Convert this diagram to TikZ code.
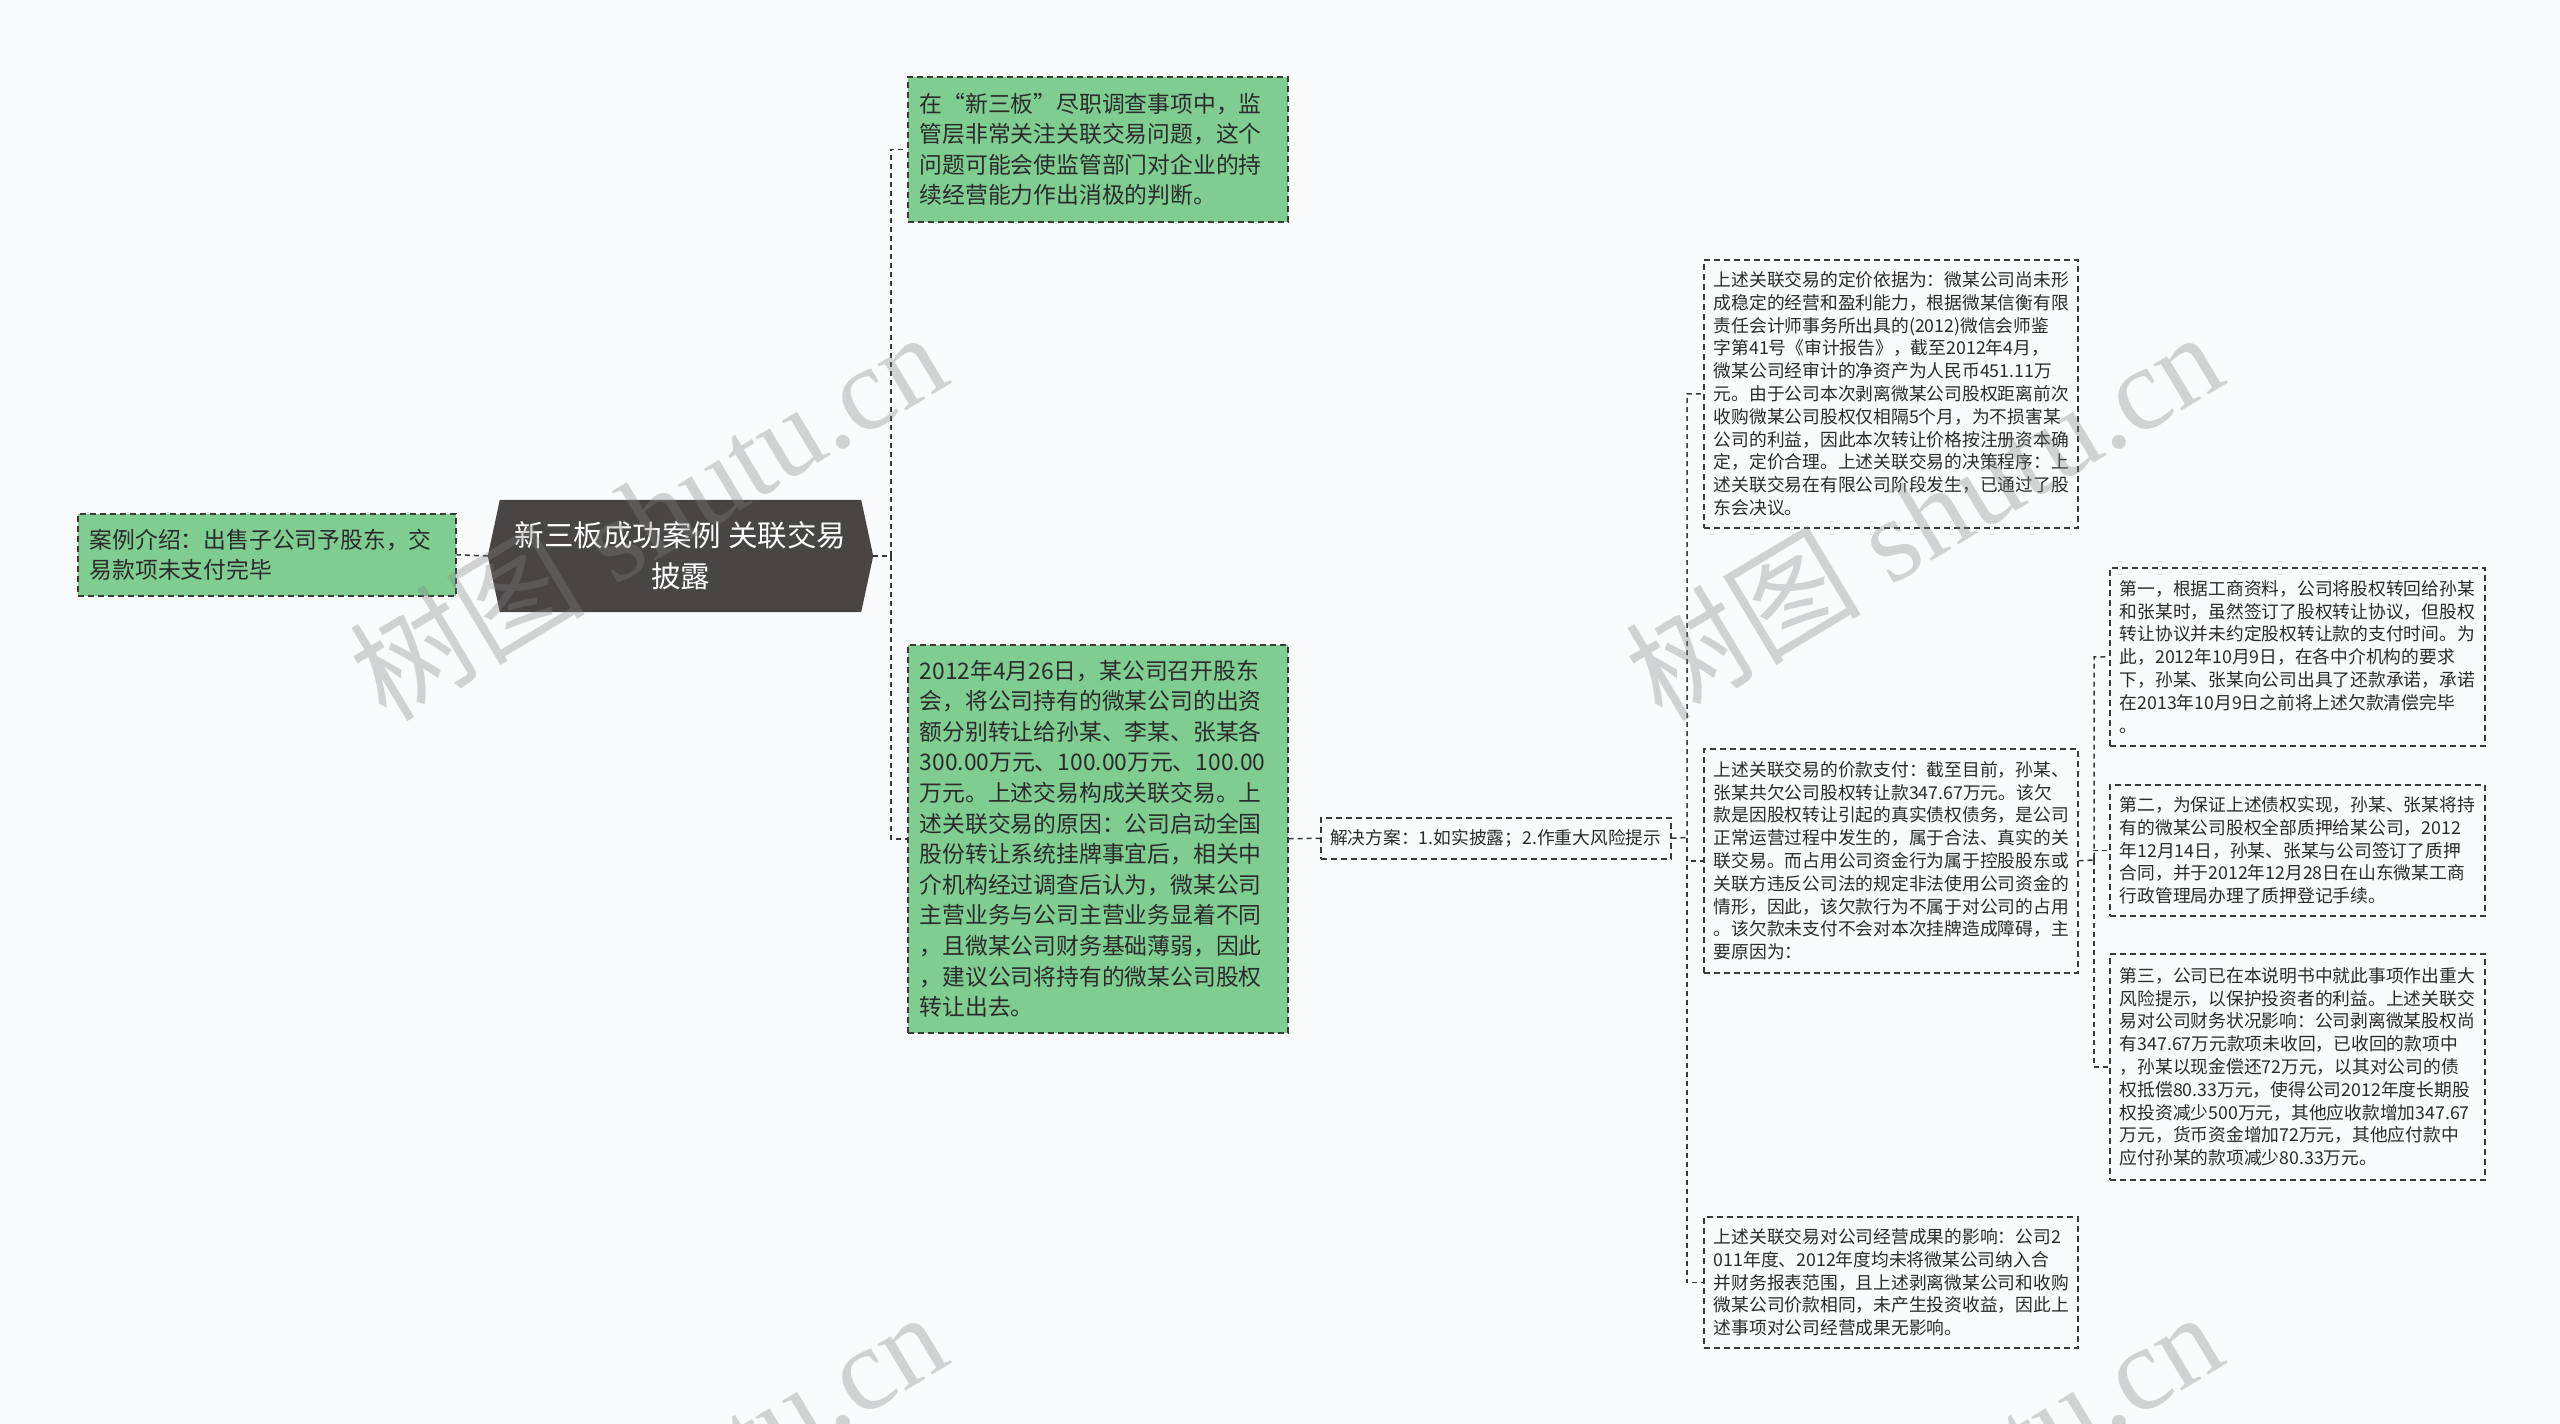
\documentclass[tikz,border=0pt]{standalone}
\usepackage{fontspec}
\newfontfamily\cjk{Noto Sans CJK SC}
\newfontfamily\wmserif{Liberation Serif}
\usetikzlibrary{backgrounds}
\definecolor{bgc}{HTML}{F9FBFD}
\definecolor{greenfill}{HTML}{7FCD91}
\definecolor{rootfill}{HTML}{4A4545}
\definecolor{edgec}{HTML}{3A3A3A}
\definecolor{txt}{HTML}{2B2B2B}
\begin{document}
\begin{tikzpicture}[x=1pt,y=-1pt,
  dashbox/.style={draw=edgec, line width=1.5pt, dash pattern=on 6pt off 4pt,
    inner xsep=10pt, inner ysep=0pt, anchor=north west, align=left, text=txt},
  greenbox/.style={dashbox, fill=greenfill, inner xsep=12pt,
    font=\cjk\fontsize{22.8}{30.6}\selectfont},
  smallbox/.style={dashbox, fill=bgc, font=\cjk\fontsize{17.75}{22.8}\selectfont},
  rootbox/.style={inner sep=0pt, minimum width=385pt, minimum height=112pt,
    align=center, text=white, font=\cjk\fontsize{29.5}{41}\selectfont},
  link/.style={draw=edgec, line width=1.5pt, dash pattern=on 5pt off 4pt},
  wm/.style={text=gray, opacity=0.33, rotate=31, inner sep=0pt}
]
\begin{scope}[on background layer]
  \fill[bgc] (0,0) rectangle (2560,1424);
\end{scope}
\useasboundingbox (0,0) rectangle (2560,1424);

% root
\node[rootbox] (root) at (680.5,556) {新三板成功案例 关联交易\\披露};
\begin{scope}[on background layer]
  \fill[rootfill] ([xshift=12pt]root.north west) -- ([xshift=-12pt]root.north east)
    -- (root.east) -- ([xshift=-12pt]root.south east)
    -- ([xshift=12pt]root.south west) -- (root.west) -- cycle;
\end{scope}

% left
\node[greenbox, text width=354pt, minimum height=82pt] (left) at (77,513)
  {案例介绍：出售子公司予股东，交\\易款项未支付完毕};

% right green
\node[greenbox, text width=356pt, minimum height=145pt] (tg) at (907,76)
  {在“新三板”尽职调查事项中，监\\管层非常关注关联交易问题，这个\\问题可能会使监管部门对企业的持\\续经营能力作出消极的判断。};
\node[greenbox, text width=356pt, minimum height=388pt] (bg) at (907,644)
  {2012年4月26日，某公司召开股东\\会，将公司持有的微某公司的出资\\额分别转让给孙某、李某、张某各\\300.00万元、100.00万元、100.00\\万元。上述交易构成关联交易。上\\述关联交易的原因：公司启动全国\\股份转让系统挂牌事宜后，相关中\\介机构经过调查后认为，微某公司\\主营业务与公司主营业务显着不同\\，且微某公司财务基础薄弱，因此\\，建议公司将持有的微某公司股权\\转让出去。};

% solution
\node[smallbox, align=center, minimum width=350pt, minimum height=41pt, inner xsep=6pt] (sol) at (1320,817)
  {解决方案：1.如实披露；2.作重大风险提示};

% column A-C
\node[smallbox, text width=354pt, minimum height=268pt] (A) at (1703,259)
  {上述关联交易的定价依据为：微某公司尚未形\\成稳定的经营和盈利能力，根据微某信衡有限\\责任会计师事务所出具的(2012)微信会师鉴\\字第41号《审计报告》，截至2012年4月，\\微某公司经审计的净资产为人民币451.11万\\元。由于公司本次剥离微某公司股权距离前次\\收购微某公司股权仅相隔5个月，为不损害某\\公司的利益，因此本次转让价格按注册资本确\\定，定价合理。上述关联交易的决策程序：上\\述关联交易在有限公司阶段发生，已通过了股\\东会决议。};
\node[smallbox, text width=354pt, minimum height=224pt] (B) at (1703,748)
  {上述关联交易的价款支付：截至目前，孙某、\\张某共欠公司股权转让款347.67万元。该欠\\款是因股权转让引起的真实债权债务，是公司\\正常运营过程中发生的，属于合法、真实的关\\联交易。而占用公司资金行为属于控股股东或\\关联方违反公司法的规定非法使用公司资金的\\情形，因此，该欠款行为不属于对公司的占用\\。该欠款未支付不会对本次挂牌造成障碍，主\\要原因为：};
\node[smallbox, text width=354pt, minimum height=131pt] (C) at (1703,1216)
  {上述关联交易对公司经营成果的影响：公司2\\011年度、2012年度均未将微某公司纳入合\\并财务报表范围，且上述剥离微某公司和收购\\微某公司价款相同，未产生投资收益，因此上\\述事项对公司经营成果无影响。};

% column D-F
\node[smallbox, text width=355pt, minimum height=178pt] (D) at (2109,567)
  {第一，根据工商资料，公司将股权转回给孙某\\和张某时，虽然签订了股权转让协议，但股权\\转让协议并未约定股权转让款的支付时间。为\\此，2012年10月9日，在各中介机构的要求\\下，孙某、张某向公司出具了还款承诺，承诺\\在2013年10月9日之前将上述欠款清偿完毕\\。};
\node[smallbox, text width=355pt, minimum height=131pt] (E) at (2109,784)
  {第二，为保证上述债权实现，孙某、张某将持\\有的微某公司股权全部质押给某公司，2012\\年12月14日，孙某、张某与公司签订了质押\\合同，并于2012年12月28日在山东微某工商\\行政管理局办理了质押登记手续。};
\node[smallbox, text width=355pt, minimum height=226pt] (F) at (2109,953)
  {第三，公司已在本说明书中就此事项作出重大\\风险提示，以保护投资者的利益。上述关联交\\易对公司财务状况影响：公司剥离微某股权尚\\有347.67万元款项未收回，已收回的款项中\\，孙某以现金偿还72万元，以其对公司的债\\权抵偿80.33万元，使得公司2012年度长期股\\权投资减少500万元，其他应收款增加347.67\\万元，货币资金增加72万元，其他应付款中\\应付孙某的款项减少80.33万元。};

% connectors
\coordinate (j1) at (891,556);
\coordinate (j2) at (1687,837.5);
\coordinate (j3) at (2094,860);
\draw[link] (root.west) -- (left.east);
\draw[link] (root.east) -- (j1) |- (tg.west);
\draw[link] (j1) |- (bg.west);
\draw[link] (bg.east) -- (sol.west);
\draw[link] (sol.east) -- (j2) |- (A.west);
\draw[link] (j2) |- (B.west);
\draw[link] (j2) |- (C.west);
\draw[link] (B.east) -- (j3) |- (D.west);
\draw[link] (j3) |- (E.west);
\draw[link] (j3) |- (F.west);

% watermarks
\foreach \wx/\wy [count=\i] in {647/514, 1923/514, 647/1494, 1923/1494}
  \node[wm] (wm\i) at (\wx,\wy) {\cjk\fontsize{118}{118}\selectfont 树图\hspace{30pt}\wmserif shutu.cn};
\end{tikzpicture}
\end{document}
